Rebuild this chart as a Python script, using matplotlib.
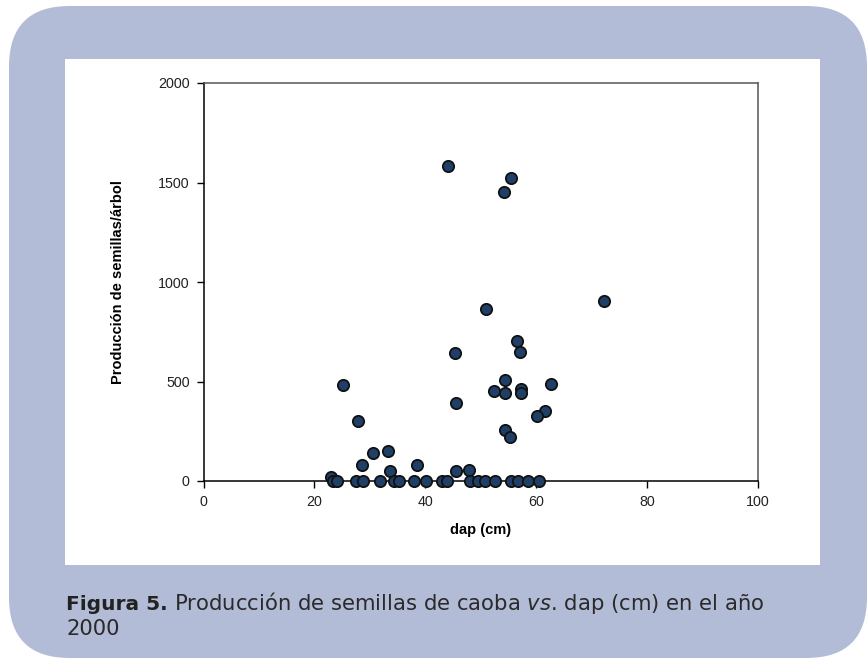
import numpy as np
import matplotlib
matplotlib.use("Agg")
from matplotlib import pyplot as plt
from matplotlib.patches import FancyBboxPatch, Rectangle

# dap (cm) y producción de semillas por árbol
dap = [44.1, 55.5, 54.2, 72.3, 50.9, 56.5, 57.0, 45.3, 54.4, 62.7,
       52.3, 54.4, 57.3, 57.3, 45.5, 61.5, 60.1, 54.4, 55.2,
       25.2, 27.8, 30.6, 33.2, 28.5, 38.5, 33.7, 45.6, 47.9, 23.0,
       23.3, 24.0, 27.5, 28.8, 31.9, 34.3, 35.2, 37.9, 40.1, 43.0,
       44.0, 48.0, 49.5, 50.7, 52.6, 55.4, 56.8, 58.6, 60.5]
semillas = [1585, 1525, 1454, 906, 864, 705, 649, 643, 508, 488,
            453, 443, 463, 440, 391, 352, 325, 257, 221,
            483, 300, 139, 151, 79, 79, 52, 50, 55, 18,
            0, 0, 0, 0, 0, 0, 0, 0, 0, 0,
            0, 0, 0, 0, 0, 0, 0, 0, 0]

xticks = [0, 20, 40, 60, 80, 100]
yticks = [0, 500, 1000, 1500, 2000]

W, H = 867, 658
fig = plt.figure(figsize=(W / 100, H / 100), dpi=100)
fig.patch.set_facecolor("white")

# fondo azul redondeado y panel blanco
bg = FancyBboxPatch((9 / W, 0.0), (W - 9) / W, (H - 6) / H,
                    boxstyle="round,pad=0,rounding_size=0.07",
                    transform=fig.transFigure, facecolor="#b3bcd6",
                    edgecolor="none", mutation_aspect=W / H, zorder=0)
fig.patches.append(bg)
panel = Rectangle((65 / W, 1 - 565 / H), (820 - 65) / W, (565 - 59) / H,
                  transform=fig.transFigure, facecolor="white",
                  edgecolor="none", zorder=1)
fig.patches.append(panel)

ax = fig.add_axes([203.5 / W, 1 - 481 / H, (758 - 203.5) / W, (481 - 83) / H])
ax.set_zorder(5)
ax.set_facecolor("white")
ax.scatter(dap, semillas, s=66, facecolor="#1f3f66", edgecolor="#111111",
           linewidth=1.3, zorder=3, clip_on=False)

ax.set_xlim(0, 100)
ax.set_ylim(0, 2000)
ax.set_xticks(xticks)
ax.set_yticks(yticks)
ax.tick_params(direction="out", length=5, width=1, labelsize=10.3,
               colors="black", pad=5)
for lab in ax.get_xticklabels() + ax.get_yticklabels():
    lab.set_family(["Liberation Sans", "DejaVu Sans"])
    lab.set_color("#222222")
ax.spines["left"].set_color("black")
ax.spines["bottom"].set_color("black")
ax.spines["top"].set_color("#555555")
ax.spines["right"].set_color("#555555")
for sp in ax.spines.values():
    sp.set_linewidth(1.1)

ax.set_xlabel("dap (cm)", fontsize=10.5, fontweight="bold",
              family=["Liberation Sans", "DejaVu Sans"], labelpad=10)
ax.set_ylabel("Producción de semillas/árbol", fontsize=10.5, fontweight="bold",
              family=["Liberation Sans", "DejaVu Sans"], labelpad=24)

cap_font = ["DejaVu Sans"]
t1 = fig.text(66 / W, 1 - 610 / H, "Figura 5.", fontsize=14.5,
              fontweight="bold", family=cap_font, color="#222222")
fig.canvas.draw()
bb = t1.get_window_extent()
fig.text((bb.x1 + 6) / W, 1 - 610 / H,
         "Producción de semillas de caoba $\\it{vs}$. dap (cm) en el año",
         fontsize=15.2, family=cap_font, color="#2a2a2a")
fig.text(66 / W, 1 - 635 / H, "2000", fontsize=15.2, family=cap_font,
         color="#2a2a2a")

fig.savefig("out.png", dpi=100, facecolor=fig.get_facecolor())
